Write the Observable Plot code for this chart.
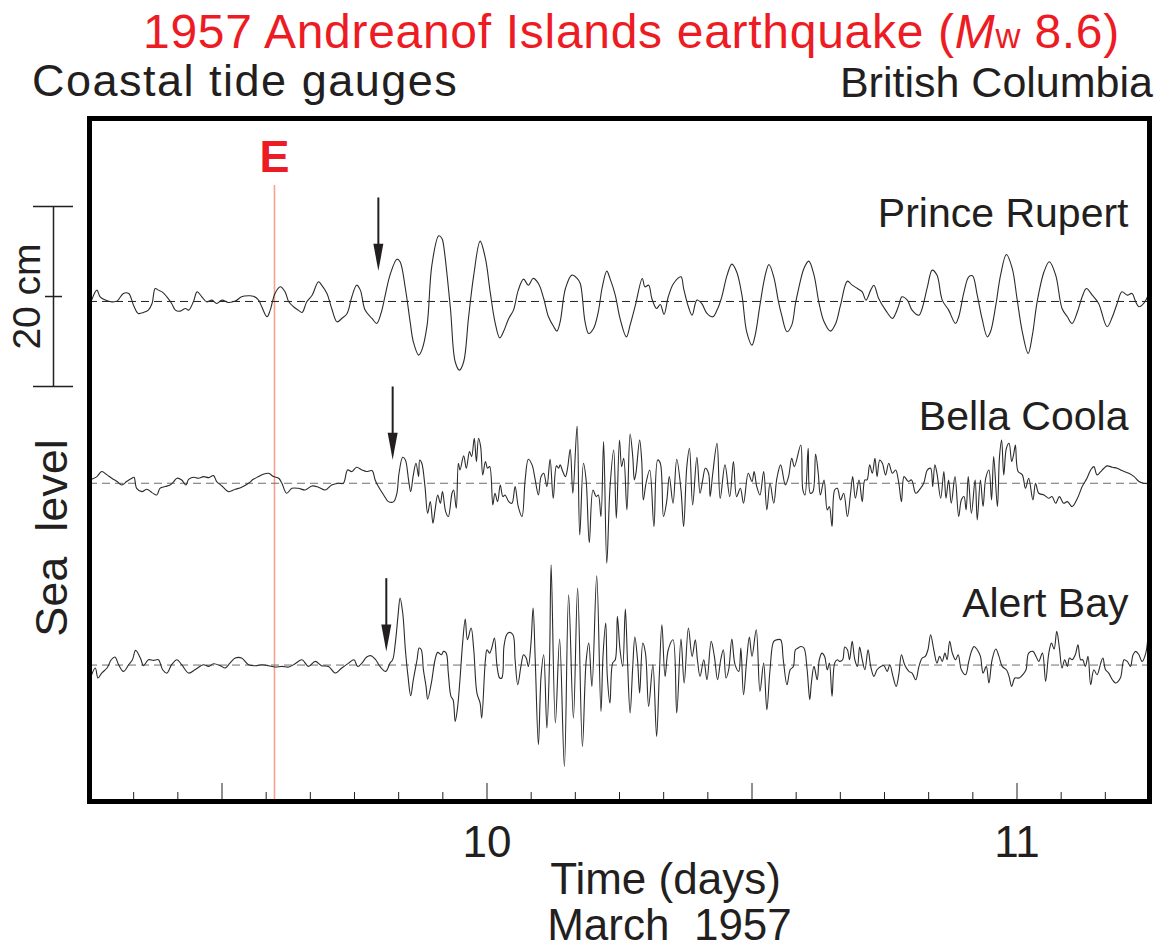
<!DOCTYPE html>
<html>
<head>
<meta charset="utf-8">
<script src="https://cdn.jsdelivr.net/npm/d3@7"></script>
<script src="https://cdn.jsdelivr.net/npm/@observablehq/plot@0.6"></script>
<style>
  html, body { margin: 0; padding: 0; background: #fff; }
  #page { position: relative; width: 1161px; height: 949px; overflow: hidden;
          font-family: "Liberation Sans", Arial, Helvetica, sans-serif; color: #231f20; }
  .head { position: absolute; white-space: nowrap; line-height: 1; }
  #title { left: 143px; top: 8px; font-size: 48px; letter-spacing: 0.7px; color: #ed1c24; }
  #title .w { font-size: 0.72em; letter-spacing: 0; }
  #left-sub { left: 32px; top: 58px; font-size: 45px; letter-spacing: 1.5px; }
  #right-sub { right: 8px; top: 61px; font-size: 43px; }
  #chart { position: absolute; left: 0; top: 110px; }
</style>
</head>
<body>
<div id="page">
  <div id="title" class="head">1957 Andreanof Islands earthquake (<i>M</i><span class="w">w</span> 8.6)</div>
  <div id="left-sub" class="head">Coastal tide gauges</div>
  <div id="right-sub" class="head">British Columbia</div>
  <div id="chart"></div>
</div>
<script>
// Tide-gauge residuals, March 1957: [day of month (UTC), sea level in cm]
const princeRupert = [
  [9.254,0.15],[9.264,1.26],[9.270,0.52],[9.280,0.15],[9.292,-0.04],[9.302,0.04],[9.314,0.89],[9.324,0.89],
  [9.333,-0.41],[9.342,-1.33],[9.352,-1.22],[9.361,-0.96],[9.368,-0.22],[9.374,1.44],[9.380,1.26],[9.387,1.07],
  [9.396,0.52],[9.405,-0.22],[9.412,-0.96],[9.421,-1.07],[9.431,-0.78],[9.437,-0.96],[9.446,-0.04],[9.453,1.07],
  [9.462,0.52],[9.471,-0.04],[9.481,0.15],[9.490,-0.22],[9.500,0.15],[9.512,-0.11],[9.525,0.04],[9.537,0.52],
  [9.550,0.63],[9.559,0.59],[9.569,0.15],[9.575,-0.59],[9.585,-1.70],[9.591,-0.96],[9.600,0.89],[9.610,1.63],
  [9.619,1.07],[9.626,-0.04],[9.635,-0.59],[9.644,-0.96],[9.651,-1.22],[9.660,-0.04],[9.670,0.70],[9.682,2.19],
  [9.688,1.81],[9.698,0.89],[9.707,-0.78],[9.717,-2.26],[9.726,-1.89],[9.736,-1.33],[9.745,0.52],[9.754,1.81],
  [9.761,1.26],[9.770,-0.96],[9.783,-1.89],[9.792,-2.44],[9.800,-1.33],[9.808,0.70],[9.817,2.93],[9.830,4.70],
  [9.836,4.41],[9.846,1.44],[9.855,-2.26],[9.861,-4.48],[9.871,-5.96],[9.877,-5.41],[9.887,-2.63],[9.896,4.04],
  [9.909,7.30],[9.915,7.00],[9.918,6.26],[9.931,-0.78],[9.940,-6.70],[9.948,-7.63],[9.956,-6.70],[9.965,-1.89],
  [9.975,2.93],[9.987,6.70],[9.997,4.78],[10.006,1.07],[10.015,-2.26],[10.024,-4.04],[10.031,-3.37],[10.041,-1.89],
  [10.050,-0.96],[10.059,1.26],[10.069,2.48],[10.078,1.81],[10.087,2.56],[10.097,2.00],[10.107,0.33],[10.116,-1.70],
  [10.126,-2.81],[10.132,-3.30],[10.138,-2.26],[10.148,1.44],[10.160,2.93],[10.170,2.56],[10.176,2.00],[10.185,-2.26],
  [10.192,-3.56],[10.201,-3.00],[10.210,-1.15],[10.217,1.44],[10.226,3.37],[10.232,2.56],[10.242,0.70],[10.251,-1.89],
  [10.263,-3.93],[10.270,-2.63],[10.280,-0.41],[10.293,2.56],[10.298,1.63],[10.305,1.81],[10.311,0.33],[10.320,-0.78],
  [10.327,-0.33],[10.334,-1.44],[10.342,0.52],[10.352,2.00],[10.366,2.74],[10.371,1.44],[10.380,-0.59],[10.387,-1.52],
  [10.396,0.15],[10.405,-0.22],[10.415,-1.33],[10.426,-1.70],[10.434,-0.96],[10.443,0.52],[10.453,2.93],[10.462,4.15],
  [10.471,3.30],[10.481,0.70],[10.490,-3.37],[10.500,-4.85],[10.506,-3.74],[10.515,-0.41],[10.525,2.93],[10.532,4.11],
  [10.541,2.74],[10.550,-0.04],[10.556,-1.52],[10.566,-3.37],[10.575,-2.63],[10.582,-0.22],[10.588,1.44],[10.598,3.67],
  [10.607,4.48],[10.617,2.93],[10.626,-0.04],[10.636,-2.26],[10.648,-3.30],[10.658,-2.44],[10.667,-0.41],[10.680,2.26],
  [10.689,1.81],[10.699,1.44],[10.708,1.07],[10.715,0.15],[10.724,1.26],[10.730,1.81],[10.739,0.33],[10.752,-0.96],
  [10.765,-1.89],[10.771,-1.33],[10.777,-0.41],[10.783,0.52],[10.793,0.15],[10.802,-0.96],[10.815,-1.52],[10.821,-0.78],
  [10.831,1.63],[10.840,3.48],[10.849,2.93],[10.859,0.15],[10.871,-0.96],[10.884,-2.44],[10.890,-1.70],[10.900,1.07],
  [10.909,2.74],[10.916,2.85],[10.925,0.70],[10.934,-1.89],[10.944,-3.93],[10.950,-3.37],[10.960,-0.41],[10.969,2.93],
  [10.980,5.22],[10.991,3.67],[11.000,0.33],[11.010,-3.37],[11.021,-5.78],[11.029,-3.74],[11.038,-0.04],[11.051,3.30],
  [11.061,4.41],[11.073,2.93],[11.085,-0.78],[11.095,-1.70],[11.104,-2.44],[11.114,-1.15],[11.123,0.52],[11.131,1.44],
  [11.142,0.70],[11.154,-0.22],[11.170,-2.81],[11.180,-1.70],[11.189,-0.22],[11.198,1.07],[11.208,0.70],[11.217,0.89],
  [11.224,-0.04],[11.230,-0.59],[11.239,-0.22],[11.249,0.89]
];

const bellaCoola = [
  [9.254,0.44],[9.264,0.74],[9.273,1.30],[9.283,0.93],[9.292,0.56],[9.302,0.19],[9.311,-0.19],[9.320,0.19],
  [9.330,0.56],[9.334,0.67],[9.339,-0.56],[9.349,-0.93],[9.358,-0.67],[9.368,-1.04],[9.377,-1.30],[9.383,-0.56],
  [9.393,-0.37],[9.402,-0.19],[9.409,0.19],[9.415,0.56],[9.424,0.37],[9.432,-0.19],[9.437,0.44],[9.446,0.67],
  [9.456,0.56],[9.465,0.74],[9.475,0.63],[9.484,0.85],[9.490,0.19],[9.500,-0.30],[9.512,-0.93],[9.525,-0.67],
  [9.537,-0.44],[9.550,0.00],[9.559,0.44],[9.569,0.74],[9.578,1.00],[9.588,1.11],[9.597,0.74],[9.607,0.56],
  [9.613,0.00],[9.622,-1.11],[9.632,-0.56],[9.644,-0.56],[9.657,-0.74],[9.670,-0.30],[9.682,-0.44],[9.695,-0.74],
  [9.707,-0.19],[9.720,0.00],[9.729,0.00],[9.737,1.48],[9.745,1.30],[9.754,1.78],[9.764,1.48],[9.773,1.30],
  [9.783,1.41],[9.789,0.37],[9.795,-0.37],[9.805,-1.30],[9.814,-2.04],[9.824,-2.04],[9.830,-1.11],[9.834,1.11],
  [9.841,2.89],[9.846,2.59],[9.852,0.37],[9.856,-0.93],[9.861,0.93],[9.866,2.22],[9.871,0.74],[9.873,2.59],
  [9.877,2.22],[9.883,-0.37],[9.888,-3.33],[9.893,-2.04],[9.898,-4.44],[9.902,-2.96],[9.907,-1.30],[9.912,-2.22],
  [9.916,-0.93],[9.922,-3.15],[9.927,-3.70],[9.934,-1.11],[9.937,-0.74],[9.942,-2.78],[9.946,2.22],[9.949,1.48],
  [9.956,3.04],[9.961,1.67],[9.967,3.52],[9.971,2.96],[9.976,5.00],[9.980,2.41],[9.984,5.00],[9.988,4.07],
  [9.992,0.93],[9.997,2.41],[10.001,1.67],[10.005,1.85],[10.011,-2.41],[10.015,-1.11],[10.020,-2.04],[10.025,-0.19],
  [10.030,-1.48],[10.034,-1.30],[10.041,-2.04],[10.047,-2.22],[10.053,-0.37],[10.059,-2.59],[10.066,-3.70],[10.072,0.37],
  [10.078,2.67],[10.085,2.04],[10.091,0.37],[10.097,-1.30],[10.102,0.74],[10.107,1.11],[10.113,-0.37],[10.119,2.67],
  [10.125,-1.67],[10.131,1.93],[10.135,1.67],[10.138,2.04],[10.143,1.30],[10.148,0.74],[10.152,1.67],[10.157,3.78],
  [10.162,-1.11],[10.170,6.37],[10.175,-5.74],[10.182,2.22],[10.187,0.37],[10.193,-6.59],[10.200,-0.74],[10.206,-1.48],
  [10.210,-1.30],[10.215,-3.70],[10.220,4.63],[10.226,-8.89],[10.232,-0.56],[10.239,3.70],[10.244,-3.89],[10.250,4.81],
  [10.254,1.85],[10.258,2.78],[10.264,-2.96],[10.270,5.48],[10.275,2.96],[10.278,0.37],[10.281,1.11],[10.288,4.81],
  [10.292,2.41],[10.295,-1.85],[10.300,0.00],[10.307,1.48],[10.315,-4.81],[10.322,2.59],[10.327,2.22],[10.333,-3.70],
  [10.339,-2.04],[10.344,0.74],[10.351,-2.22],[10.358,2.67],[10.366,-0.74],[10.371,-4.81],[10.377,1.85],[10.382,3.89],
  [10.388,-2.41],[10.396,2.89],[10.402,-1.11],[10.407,0.37],[10.412,1.67],[10.418,1.11],[10.421,-1.48],[10.426,1.11],
  [10.434,4.44],[10.440,-1.67],[10.449,2.04],[10.458,-1.48],[10.465,2.41],[10.471,-1.48],[10.478,-0.56],[10.484,-2.22],
  [10.493,1.11],[10.500,0.19],[10.504,1.30],[10.509,-0.37],[10.515,-1.30],[10.522,1.30],[10.528,-2.96],[10.534,0.00],
  [10.541,-2.22],[10.547,0.56],[10.554,2.04],[10.563,-0.19],[10.569,0.74],[10.575,2.78],[10.580,1.85],[10.592,4.26],
  [10.596,-0.74],[10.600,-1.30],[10.606,3.89],[10.610,-1.11],[10.615,-0.93],[10.620,3.26],[10.625,1.11],[10.629,-1.30],
  [10.636,0.37],[10.642,-2.96],[10.646,-2.59],[10.651,-4.81],[10.656,-0.74],[10.661,-0.56],[10.667,-1.85],[10.673,-1.11],
  [10.680,-3.70],[10.686,-1.11],[10.690,0.74],[10.695,-1.67],[10.702,0.37],[10.708,-2.04],[10.713,0.37],[10.717,0.37],
  [10.722,2.04],[10.727,1.11],[10.732,2.78],[10.736,0.74],[10.741,2.59],[10.746,2.22],[10.752,0.93],[10.758,2.22],
  [10.765,1.11],[10.771,1.48],[10.777,0.00],[10.782,-2.04],[10.787,0.74],[10.795,0.19],[10.801,0.37],[10.809,-1.11],
  [10.818,-0.56],[10.824,0.00],[10.831,1.48],[10.837,1.67],[10.841,-0.37],[10.845,2.04],[10.849,1.11],[10.856,-1.67],
  [10.862,1.30],[10.866,-1.67],[10.871,0.37],[10.876,-2.22],[10.883,0.74],[10.890,-3.70],[10.895,-1.85],[10.900,-1.48],
  [10.904,-2.96],[10.908,0.74],[10.914,-3.33],[10.921,0.37],[10.925,-4.07],[10.931,0.37],[10.936,-2.59],[10.941,0.56],
  [10.947,1.48],[10.952,-1.85],[10.956,2.96],[10.963,-2.59],[10.967,2.96],[10.971,4.81],[10.975,0.93],[10.980,3.89],
  [10.985,4.44],[10.990,2.41],[10.994,3.33],[10.997,4.26],[11.002,1.30],[11.010,0.93],[11.016,-0.56],[11.022,0.56],
  [11.030,-1.85],[11.035,0.00],[11.041,-1.11],[11.051,-1.30],[11.060,-1.67],[11.066,-1.48],[11.073,-2.22],[11.080,-1.48],
  [11.088,-2.22],[11.095,-2.04],[11.104,-2.59],[11.114,-1.67],[11.123,-0.37],[11.132,0.56],[11.139,1.48],[11.145,1.85],
  [11.151,0.93],[11.158,1.30],[11.164,1.67],[11.170,1.93],[11.180,1.78],[11.189,1.67],[11.198,1.41],[11.211,1.11],
  [11.221,0.74],[11.230,0.19],[11.239,0.00],[11.249,-0.07]
];

const alertBay = [
  [9.254,-1.07],[9.261,-0.33],[9.266,-1.44],[9.273,-0.89],[9.283,-0.33],[9.291,0.59],[9.298,0.89],[9.305,0.04],
  [9.314,-0.70],[9.324,0.04],[9.331,0.59],[9.337,1.63],[9.346,0.78],[9.352,-0.07],[9.361,0.59],[9.371,0.52],
  [9.380,0.59],[9.388,-0.52],[9.396,-0.89],[9.405,0.04],[9.415,0.59],[9.424,0.04],[9.437,-0.89],[9.449,-0.52],
  [9.465,0.04],[9.475,-0.15],[9.484,0.15],[9.497,-0.07],[9.506,-0.33],[9.515,0.22],[9.525,0.78],[9.537,0.78],
  [9.550,0.04],[9.563,-0.07],[9.575,0.04],[9.588,-0.07],[9.600,-0.22],[9.613,-0.15],[9.626,-0.22],[9.638,0.15],
  [9.651,0.59],[9.663,-0.15],[9.676,0.41],[9.688,-0.07],[9.701,-0.15],[9.714,-0.89],[9.726,-0.33],[9.739,0.22],
  [9.749,0.59],[9.756,-0.15],[9.764,0.22],[9.773,0.89],[9.781,1.04],[9.790,0.59],[9.798,-0.15],[9.809,-0.70],
  [9.817,0.22],[9.822,0.59],[9.827,2.44],[9.832,5.41],[9.836,7.44],[9.841,5.78],[9.846,1.70],[9.851,-1.26],
  [9.856,-3.41],[9.861,-1.63],[9.868,0.59],[9.872,1.89],[9.876,1.70],[9.880,-0.52],[9.885,-2.37],[9.888,-3.78],
  [9.895,-2.00],[9.902,0.59],[9.907,1.41],[9.914,1.15],[9.918,1.52],[9.923,1.33],[9.927,-0.89],[9.932,-3.48],
  [9.936,-3.85],[9.940,-6.26],[9.944,-4.96],[9.949,-1.63],[9.954,2.44],[9.959,5.11],[9.963,2.81],[9.970,4.11],
  [9.975,1.70],[9.981,-3.11],[9.987,-4.22],[9.990,-5.89],[9.997,0.59],[10.000,1.70],[10.005,1.33],[10.009,1.89],
  [10.014,3.00],[10.019,-0.15],[10.024,-1.44],[10.028,-1.44],[10.032,2.07],[10.037,3.37],[10.042,3.63],[10.049,3.37],
  [10.053,0.59],[10.058,-2.19],[10.064,-0.15],[10.069,1.15],[10.074,0.78],[10.078,-0.15],[10.083,2.44],[10.087,6.33],
  [10.091,0.59],[10.097,-8.85],[10.102,-1.26],[10.107,1.15],[10.113,-7.00],[10.118,0.59],[10.121,11.15],[10.129,-6.44],
  [10.137,2.89],[10.146,-11.26],[10.154,7.81],[10.163,-5.89],[10.171,8.56],[10.180,-9.04],[10.187,0.41],[10.192,2.44],
  [10.198,-2.37],[10.207,9.93],[10.215,-5.15],[10.219,1.15],[10.224,4.67],[10.227,-1.26],[10.232,-4.22],[10.237,0.22],
  [10.242,0.59],[10.246,5.41],[10.251,1.70],[10.256,-0.15],[10.261,6.22],[10.265,0.59],[10.270,-5.33],[10.275,-0.15],
  [10.279,3.11],[10.284,0.59],[10.288,-3.11],[10.294,2.44],[10.299,1.33],[10.305,-4.59],[10.313,0.04],[10.320,-7.93],
  [10.325,-1.26],[10.330,4.48],[10.336,-1.26],[10.342,1.70],[10.351,2.81],[10.358,-5.33],[10.366,2.89],[10.372,-2.00],
  [10.380,4.11],[10.387,0.96],[10.393,2.81],[10.397,0.59],[10.402,-1.26],[10.409,0.59],[10.415,-1.63],[10.423,2.63],
  [10.429,0.96],[10.435,-1.63],[10.441,0.59],[10.446,1.70],[10.451,-1.44],[10.456,-0.52],[10.462,2.89],[10.468,0.04],
  [10.475,-0.70],[10.479,1.89],[10.484,-3.30],[10.490,0.59],[10.495,3.11],[10.500,0.96],[10.508,3.93],[10.515,-2.93],
  [10.522,0.22],[10.528,-4.96],[10.534,-0.52],[10.541,2.63],[10.547,2.81],[10.554,2.81],[10.559,0.59],[10.566,-2.19],
  [10.572,-0.52],[10.578,-0.15],[10.582,1.70],[10.587,1.89],[10.592,2.07],[10.598,1.89],[10.604,-0.52],[10.609,-3.85],
  [10.612,-2.00],[10.617,-0.15],[10.623,-1.63],[10.627,0.59],[10.632,1.33],[10.637,0.96],[10.642,-0.52],[10.646,0.22],
  [10.651,-3.48],[10.656,0.22],[10.661,0.59],[10.665,0.41],[10.671,0.59],[10.675,2.00],[10.680,1.70],[10.684,0.59],
  [10.689,2.63],[10.694,0.59],[10.699,-0.15],[10.703,2.00],[10.708,0.59],[10.713,-0.52],[10.719,1.70],[10.724,-0.15],
  [10.730,-1.26],[10.736,-0.52],[10.743,-0.15],[10.749,-0.07],[10.755,-0.70],[10.760,0.04],[10.766,-1.26],[10.772,-2.37],
  [10.777,-1.07],[10.782,1.15],[10.788,0.04],[10.796,-0.70],[10.802,-0.89],[10.809,-1.63],[10.815,-0.15],[10.821,0.78],
  [10.827,0.96],[10.832,1.70],[10.837,3.37],[10.843,1.70],[10.849,0.22],[10.854,0.96],[10.859,0.41],[10.864,1.33],
  [10.868,0.59],[10.873,2.63],[10.878,1.33],[10.884,0.59],[10.889,1.15],[10.895,-0.52],[10.903,-1.07],[10.909,0.41],
  [10.914,1.52],[10.919,2.07],[10.925,1.70],[10.931,0.96],[10.936,-0.89],[10.942,-0.15],[10.947,-2.00],[10.953,0.59],
  [10.960,1.78],[10.966,0.96],[10.972,-0.15],[10.980,-0.52],[10.985,-1.26],[10.990,-2.37],[10.996,-1.44],[11.004,-1.44],
  [11.011,-1.07],[11.017,-0.52],[11.022,1.33],[11.030,1.52],[11.036,0.96],[11.041,0.41],[11.048,1.33],[11.054,-1.81],
  [11.060,1.33],[11.065,2.44],[11.070,1.78],[11.075,3.74],[11.080,1.89],[11.085,-0.33],[11.090,0.59],[11.095,-0.15],
  [11.099,0.78],[11.104,0.59],[11.110,1.15],[11.115,2.26],[11.120,0.59],[11.124,0.59],[11.129,-0.15],[11.134,0.96],
  [11.139,-2.19],[11.145,-0.52],[11.151,-1.07],[11.158,0.22],[11.162,0.78],[11.167,-0.52],[11.173,-0.89],[11.180,-1.63],
  [11.186,-2.00],[11.195,-1.44],[11.202,0.59],[11.208,0.41],[11.214,-0.15],[11.219,1.15],[11.224,1.52],[11.230,1.15],
  [11.236,0.41],[11.243,1.33],[11.248,3.93]
];

const stationNames = ["Prince Rupert", "Bella Coola", "Alert Bay"];
const stationSeries = [princeRupert, bellaCoola, alertBay];
const arrivalDay = [9.795, 9.822, 9.810];   // first tsunami arrival at each gauge
const quakeDay = 9.599;                     // 9 March 1957, 14:22 UTC
const quakeLabel = "E";
const dayTickLabels = [10, 11];
const halfDayTicks = [9.5, 10, 10.5, 11];
const scaleBarCm = 20;

// Layout of the stacked records (cm on the shared sea-level scale)
const xDomain = [9.25, 11.25];
const yDomain = [-55.56, 20.33];
const stackCm = [0, -20.2, -40.4];
const labelDy = [-74, -53, -48];
const arrowTipCm = [3.4, 2.6, 1.5];
const arrowLenCm = 8.1;
const scaleBarMidCm = 0.55;

const ink = "#231f20";

const records = stationSeries.flatMap((series, i) =>
  series.map(([day, cm]) => ({station: stationNames[i], day, level: cm + stackCm[i]})));

const baselines = stationNames.map((name, i) => ({name, y: stackCm[i], color: i === 0 ? ink : "#6d6e71"}));

const arrows = stationNames.map((name, i) => ({
  name,
  day: arrivalDay[i],
  tip: stackCm[i] + arrowTipCm[i],
  shaftLow: stackCm[i] + arrowTipCm[i] + 2.4,
  shaftHigh: stackCm[i] + arrowTipCm[i] + arrowLenCm
}));

// two-hour ticks between the half-day ones
const twoHourTicks = d3.range(4, 27).filter(k => k % 6 !== 0).map(k => 9 + k / 12);

// slender, filled arrowhead with its tip on the data point
const arrowHead = {
  draw(context) {
    context.moveTo(0, 0);
    context.lineTo(-5, -27);
    context.lineTo(5, -27);
    context.closePath();
  }
};

const W = 1161, H = 839, MT = 8, MB = 148, ML = 89, MR = 12;
const innerH = H - MT - MB;
const scaleTop = scaleBarMidCm + scaleBarCm / 2;
const scaleBottom = scaleBarMidCm - scaleBarCm / 2;

const chart = Plot.plot({
  width: W,
  height: H,
  marginTop: MT,
  marginBottom: MB,
  marginLeft: ML,
  marginRight: MR,
  x: {domain: xDomain},
  y: {domain: yDomain, axis: null},
  style: {
    fontFamily: '"Liberation Sans", Arial, Helvetica, sans-serif',
    background: "white",
    color: ink,
    overflow: "visible"
  },
  marks: [
    // earthquake origin time
    Plot.ruleX([quakeDay], {stroke: "#f6a28c", strokeWidth: 1.6, insetTop: 67}),
    Plot.text([quakeLabel], {x: quakeDay, frameAnchor: "top", lineAnchor: "top", dy: 22,
      fill: "#ed1c24", fontWeight: "bold", fontSize: 45}),

    // zero lines of each record
    Plot.ruleY(baselines, {y: "y", stroke: "color", strokeWidth: 1, strokeDasharray: "8,5"}),

    // sea-level records
    Plot.line(records, {x: "day", y: "level", z: "station", stroke: "#2b2b2b",
      strokeWidth: 1.1, curve: "catmull-rom"}),

    // arrival arrows
    Plot.ruleX(arrows, {x: "day", y1: "shaftLow", y2: "shaftHigh", stroke: ink, strokeWidth: 2}),
    Plot.dot(arrows, {x: "day", y: "tip", symbol: arrowHead, fill: ink, stroke: "none"}),

    // station names
    ...stationNames.map((name, i) =>
      Plot.text([name], {y: stackCm[i], frameAnchor: "right", textAnchor: "end", lineAnchor: "bottom",
        dx: -21, dy: labelDy[i], fontSize: 41, fill: ink})),

    // 20 cm scale bar
    Plot.ruleX([xDomain[0]], {y1: scaleBottom, y2: scaleTop, dx: -36, stroke: ink, strokeWidth: 1.5}),
    Plot.tickY([scaleBottom, scaleTop], {y: d => d, insetLeft: -56, insetRight: (W - MR) - 73,
      stroke: ink, strokeWidth: 1.5}),
    Plot.tickY([scaleBarMidCm], {y: d => d, insetLeft: -44, insetRight: (W - MR) - 62,
      stroke: ink, strokeWidth: 1.5}),
    Plot.text([`${scaleBarCm} cm`], {y: scaleBarMidCm, frameAnchor: "left", textAnchor: "middle",
      rotate: -90, dx: -62, fontSize: 39, fill: ink}),
    Plot.text(["Sea\u00a0 level"], {frameAnchor: "left", textAnchor: "middle", rotate: -90,
      dx: -37, dy: 78, fontSize: 45, fill: ink}),

    // time axis: ticks inside the frame, labels below
    Plot.tickX(twoHourTicks, {x: d => d, insetTop: innerH - 9, stroke: ink, strokeWidth: 1}),
    Plot.tickX(halfDayTicks, {x: d => d, insetTop: innerH - 18, stroke: ink, strokeWidth: 1}),
    Plot.axisX(dayTickLabels, {tickSize: 0, tickPadding: 24, fontSize: 44, label: null,
      tickFormat: d => `${d}`, fill: ink}),
    Plot.text(["Time (days)"], {frameAnchor: "bottom", lineAnchor: "top", dx: 46, dy: 61,
      fontSize: 44, fill: ink}),
    Plot.text(["March\u00a0 1957"], {frameAnchor: "bottom", lineAnchor: "top", dx: 50, dy: 107,
      fontSize: 44, fill: ink}),

    Plot.frame({stroke: "black", strokeWidth: 5})
  ]
});

document.getElementById("chart").append(chart);
</script>
</body>
</html>
